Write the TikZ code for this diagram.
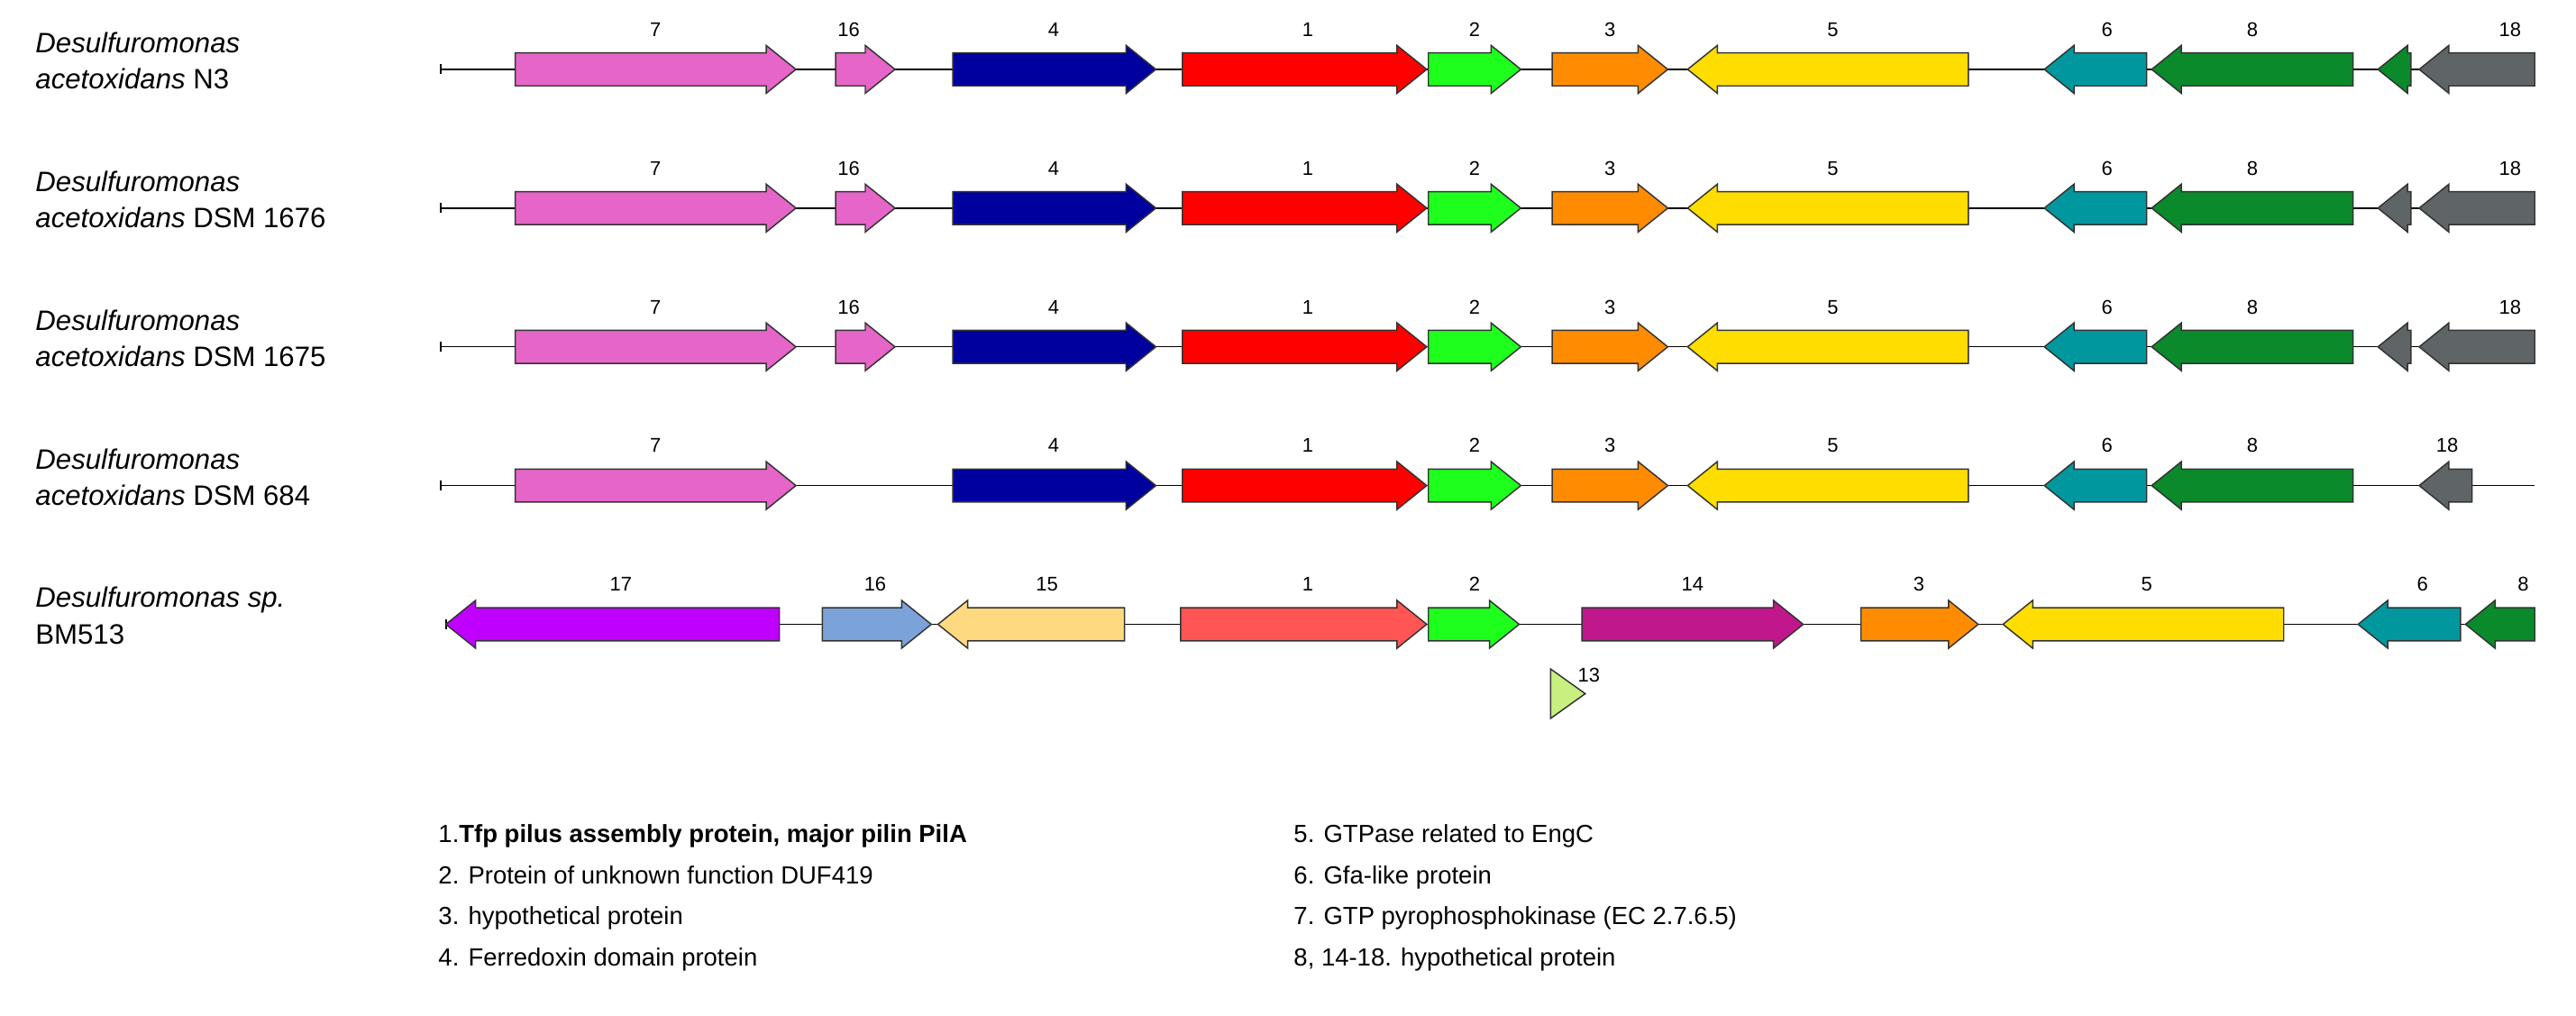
\documentclass[tikz,border=0pt]{standalone}
\usepackage{fontspec}
\setmainfont{Liberation Sans}
\begin{document}
\newcommand\gR[6]{% x1 x2 y color label labelx
 \pgfmathsetmacro\hx{max(#1,#2-18)}
 \draw[gene,fill=#4] (#1,#3-10)--(\hx,#3-10)--(\hx,#3-14.5)--(#2,#3)--(\hx,#3+14.5)--(\hx,#3+10)--(#1,#3+10)--cycle;
 \node[num] at (#6,#3-20) {#5};}
\newcommand\gL[6]{%
 \pgfmathsetmacro\hx{min(#2,#1+18)}
 \draw[gene,fill=#4] (#2,#3-10)--(\hx,#3-10)--(\hx,#3-14.5)--(#1,#3)--(\hx,#3+14.5)--(\hx,#3+10)--(#2,#3+10)--cycle;
 \node[num] at (#6,#3-20) {#5};}
\begin{tikzpicture}[x=1pt,y=-1pt,
 gene/.style={draw=black!80,line width=0.8pt},
 num/.style={font=\fontsize{12}{13}\selectfont,anchor=base},
 sp/.style={font=\fontsize{17}{22}\selectfont,align=left,anchor=north west},
 leg/.style={font=\fontsize{15}{18}\selectfont,anchor=base west}]
\definecolor{pk}{HTML}{E565C8}\definecolor{nv}{HTML}{00009E}
\definecolor{rd}{HTML}{FF0000}\definecolor{lm}{HTML}{1EFF1E}
\definecolor{og}{HTML}{FF8C00}\definecolor{yl}{HTML}{FFDD00}
\definecolor{tl}{HTML}{00989E}\definecolor{dg}{HTML}{0A8A2A}
\definecolor{gy}{HTML}{5F6566}\definecolor{pu}{HTML}{BF00FF}
\definecolor{lb}{HTML}{7BA2D9}\definecolor{lo}{HTML}{FFD980}
\definecolor{sa}{HTML}{FF5555}\definecolor{mg}{HTML}{C0178C}
\definecolor{yg}{HTML}{C8F080}
\useasboundingbox (0,0) rectangle (1560,615);
% species
\node[sp] at (18,16) {\itshape Desulfuromonas\\\itshape acetoxidans \upshape N3};
\node[sp] at (18,100) {\itshape Desulfuromonas\\\itshape acetoxidans \upshape DSM 1676};
\node[sp] at (18,184) {\itshape Desulfuromonas\\\itshape acetoxidans \upshape DSM 1675};
\node[sp] at (18,268) {\itshape Desulfuromonas\\\itshape acetoxidans \upshape DSM 684};
\node[sp] at (18,352) {\itshape Desulfuromonas sp.\\BM513};
% rows 1-3
\foreach \y in {42,126,210}{
 \draw[line width=0.8pt] (267,\y)--(1535,\y);
 \draw[line width=1pt] (267,\y-3)--(267,\y+3);
 \gR{312}{482}{\y}{pk}{7}{397}
 \gR{506}{542}{\y}{pk}{16}{514}
 \gR{577}{700}{\y}{nv}{4}{638}
 \gR{716}{864}{\y}{rd}{1}{792}
 \gR{865}{921}{\y}{lm}{2}{893}
 \gR{940}{1010}{\y}{og}{3}{975}
 \gL{1022}{1192}{\y}{yl}{5}{1110}
 \gL{1238}{1300}{\y}{tl}{6}{1276}
 \gL{1303}{1425}{\y}{dg}{8}{1364}
 \gL{1465}{1535}{\y}{gy}{18}{1520}
}
\gL{1440}{1460}{42}{dg}{}{1450}
\gL{1440}{1460}{126}{gy}{}{1450}
\gL{1440}{1460}{210}{gy}{}{1450}
% row 4
\draw[line width=0.8pt] (267,294)--(1535,294);
\draw[line width=1pt] (267,291)--(267,297);
\gR{312}{482}{294}{pk}{7}{397}
\gR{577}{700}{294}{nv}{4}{638}
\gR{716}{864}{294}{rd}{1}{792}
\gR{865}{921}{294}{lm}{2}{893}
\gR{940}{1010}{294}{og}{3}{975}
\gL{1022}{1192}{294}{yl}{5}{1110}
\gL{1238}{1300}{294}{tl}{6}{1276}
\gL{1303}{1425}{294}{dg}{8}{1364}
\gL{1465}{1497}{294}{gy}{18}{1482}
% row 5
\draw[line width=0.8pt] (270,378)--(1535,378);
\draw[line width=1pt] (270,375)--(270,381);
\gL{270}{472}{378}{pu}{17}{376}
\gR{498}{564}{378}{lb}{16}{530}
\gL{568}{681}{378}{lo}{15}{634}
\gR{715}{864}{378}{sa}{1}{792}
\gR{865}{920}{378}{lm}{2}{893}
\gR{958}{1092}{378}{mg}{14}{1025}
\gR{1127}{1198}{378}{og}{3}{1162}
\gL{1213}{1383}{378}{yl}{5}{1300}
\gL{1428}{1490}{378}{tl}{6}{1467}
\gL{1493}{1535}{378}{dg}{8}{1528}
\draw[gene,fill=yg] (939,405)--(960,420)--(939,435)--cycle;
\node[num,anchor=base west] at (952,413) {13};
% legend
\node[leg] at (262,510) {1.\textbf{Tfp pilus assembly protein, major pilin PilA}};
\node[leg] at (262,535) {2. Protein of unknown function DUF419};
\node[leg] at (262,560) {3. hypothetical protein};
\node[leg] at (262,585) {4. Ferredoxin domain protein};
\node[leg] at (780,510) {5. GTPase related to EngC};
\node[leg] at (780,535) {6. Gfa-like protein};
\node[leg] at (780,560) {7. GTP pyrophosphokinase (EC 2.7.6.5)};
\node[leg] at (780,585) {8, 14-18. hypothetical protein};
\end{tikzpicture}
\end{document}
